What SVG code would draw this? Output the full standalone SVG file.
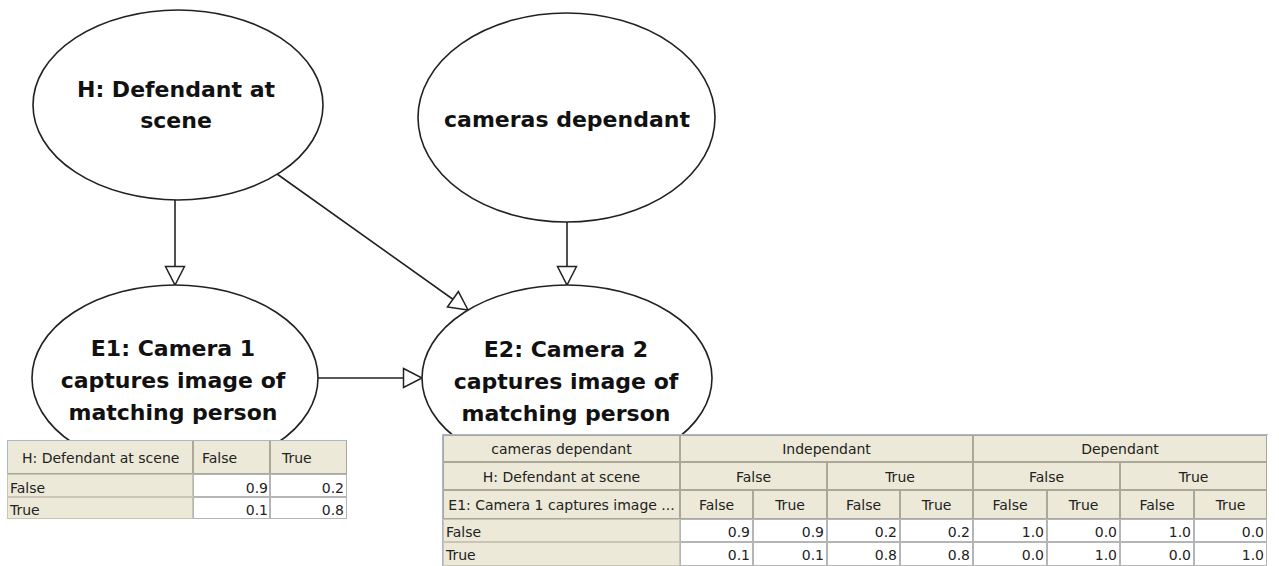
<svg xmlns="http://www.w3.org/2000/svg" width="1279" height="566" viewBox="0 0 1279 566">
<style>
.nd{fill:#fff;stroke:#222;stroke-width:1.6}
.nt{font-family:"DejaVu Sans",Verdana,sans-serif;font-weight:bold;font-size:22px;fill:#111;text-anchor:middle}
.ln{stroke:#222;stroke-width:1.6;fill:none}
.hc{fill:#ece9d8;stroke:#aca899;stroke-width:1}
.lc{fill:#ece9d8;stroke:#c9c5b5;stroke-width:1}
.vc{fill:#fff;stroke:#b5b5b5;stroke-width:1}
.tt{font-family:"DejaVu Sans",Tahoma,sans-serif;font-size:14px;fill:#222}
.c{text-anchor:middle}
.r{text-anchor:end}
.ob{fill:none;stroke:#a7b8cc;stroke-width:1}
</style>
<defs>
<marker id="ah" viewBox="0 0 22 22" refX="20" refY="11" markerWidth="22" markerHeight="22" markerUnits="userSpaceOnUse" orient="auto">
<path d="M1.5,1.5 L20,11 L1.5,20.5 Z" fill="#fff" stroke="#222" stroke-width="1.5"/>
</marker>
</defs>
<rect width="1279" height="566" fill="#fff"/>

<g id="connectors">
<path class="ln" d="M175,200 V285" marker-end="url(#ah)"/>
<path class="ln" d="M567,222 V285" marker-end="url(#ah)"/>
<path class="ln" d="M277,174 L468,310" marker-end="url(#ah)"/>
<path class="ln" d="M318,378 H422" marker-end="url(#ah)"/>
</g>

<g id="node-H">
<ellipse class="nd" cx="178" cy="105" rx="145" ry="95"/>
<text class="nt" x="176" y="97">H: Defendant at</text>
<text class="nt" x="176" y="128">scene</text>
</g>

<g id="node-cameras">
<ellipse class="nd" cx="566.5" cy="117.5" rx="148.5" ry="104.5"/>
<text class="nt" x="567" y="127">cameras dependant</text>
</g>

<g id="node-E1">
<ellipse class="nd" cx="175" cy="378" rx="143" ry="93"/>
<text class="nt" x="173" y="356">E1: Camera 1</text>
<text class="nt" x="173" y="388">captures image of</text>
<text class="nt" x="173" y="420">matching person</text>
</g>

<g id="node-E2">
<ellipse class="nd" cx="567" cy="378" rx="145" ry="93"/>
<text class="nt" x="566" y="357">E2: Camera 2</text>
<text class="nt" x="566" y="389">captures image of</text>
<text class="nt" x="566" y="421">matching person</text>
</g>

<g id="table-E1">
<rect x="7" y="440" width="340" height="79" fill="#fff"/>
<rect class="hc" x="7.5" y="440.5" width="185" height="33"/>
<rect class="hc" x="193.5" y="440.5" width="76" height="33"/>
<rect class="hc" x="270.5" y="440.5" width="76" height="33"/>
<rect class="lc" x="7.5" y="474.5" width="185" height="22"/>
<rect class="lc" x="7.5" y="497.5" width="185" height="21"/>
<rect class="vc" x="193.5" y="474.5" width="76" height="22"/>
<rect class="vc" x="270.5" y="474.5" width="76" height="22"/>
<rect class="vc" x="193.5" y="497.5" width="76" height="21"/>
<rect class="vc" x="270.5" y="497.5" width="76" height="21"/>
<path d="M7.5,474 V440.5 H347" class="ob"/>
<text class="tt" x="22" y="463">H: Defendant at scene</text>
<text class="tt" x="202" y="463">False</text>
<text class="tt" x="282" y="463">True</text>
<text class="tt" x="10" y="493">False</text>
<text class="tt" x="10" y="515">True</text>
<text class="tt r" x="268" y="493">0.9</text>
<text class="tt r" x="344" y="493">0.2</text>
<text class="tt r" x="268" y="515">0.1</text>
<text class="tt r" x="344" y="515">0.8</text>
</g>

<g id="table-E2">
<rect x="443" y="435" width="825" height="131" fill="#fff"/>
<rect class="hc" x="443.5" y="435.5" width="236" height="26"/>
<rect class="hc" x="680.5" y="435.5" width="292" height="26"/>
<rect class="hc" x="973.5" y="435.5" width="293" height="26"/>
<rect class="hc" x="443.5" y="462.5" width="236" height="27"/>
<rect class="hc" x="680.5" y="462.5" width="146" height="27"/>
<rect class="hc" x="827.5" y="462.5" width="145" height="27"/>
<rect class="hc" x="973.5" y="462.5" width="146" height="27"/>
<rect class="hc" x="1120.5" y="462.5" width="146" height="27"/>
<rect class="hc" x="443.5" y="490.5" width="236" height="28"/>
<rect class="hc" x="680.5" y="490.5" width="72" height="28"/>
<rect class="hc" x="753.5" y="490.5" width="73" height="28"/>
<rect class="hc" x="827.5" y="490.5" width="72" height="28"/>
<rect class="hc" x="900.5" y="490.5" width="72" height="28"/>
<rect class="hc" x="973.5" y="490.5" width="73" height="28"/>
<rect class="hc" x="1047.5" y="490.5" width="72" height="28"/>
<rect class="hc" x="1120.5" y="490.5" width="73" height="28"/>
<rect class="hc" x="1194.5" y="490.5" width="72" height="28"/>
<rect class="lc" x="443.5" y="519.5" width="236" height="22"/>
<rect class="lc" x="443.5" y="542.5" width="236" height="23"/>
<g class="vc">
<rect x="680.5" y="519.5" width="72" height="22"/>
<rect x="753.5" y="519.5" width="73" height="22"/>
<rect x="827.5" y="519.5" width="72" height="22"/>
<rect x="900.5" y="519.5" width="72" height="22"/>
<rect x="973.5" y="519.5" width="73" height="22"/>
<rect x="1047.5" y="519.5" width="72" height="22"/>
<rect x="1120.5" y="519.5" width="73" height="22"/>
<rect x="1194.5" y="519.5" width="72" height="22"/>
<rect x="680.5" y="542.5" width="72" height="23"/>
<rect x="753.5" y="542.5" width="73" height="23"/>
<rect x="827.5" y="542.5" width="72" height="23"/>
<rect x="900.5" y="542.5" width="72" height="23"/>
<rect x="973.5" y="542.5" width="73" height="23"/>
<rect x="1047.5" y="542.5" width="72" height="23"/>
<rect x="1120.5" y="542.5" width="73" height="23"/>
<rect x="1194.5" y="542.5" width="72" height="23"/>
</g>
<path d="M442.5,566 V434.5 H1268" class="ob"/>
<text class="tt c" x="561.5" y="454">cameras dependant</text>
<text class="tt c" x="826.5" y="454">Independant</text>
<text class="tt c" x="1120" y="454">Dependant</text>
<text class="tt c" x="561.5" y="482">H: Defendant at scene</text>
<text class="tt c" x="753.5" y="482">False</text>
<text class="tt c" x="900" y="482">True</text>
<text class="tt c" x="1046.5" y="482">False</text>
<text class="tt c" x="1193.5" y="482">True</text>
<text class="tt c" x="561.5" y="510">E1: Camera 1 captures image ...</text>
<text class="tt c" x="716.5" y="510">False</text>
<text class="tt c" x="790" y="510">True</text>
<text class="tt c" x="863.5" y="510">False</text>
<text class="tt c" x="936.5" y="510">True</text>
<text class="tt c" x="1010" y="510">False</text>
<text class="tt c" x="1083.5" y="510">True</text>
<text class="tt c" x="1157" y="510">False</text>
<text class="tt c" x="1230.5" y="510">True</text>
<text class="tt" x="446" y="537">False</text>
<text class="tt" x="446" y="560">True</text>
<text class="tt r" x="750" y="537">0.9</text>
<text class="tt r" x="824" y="537">0.9</text>
<text class="tt r" x="897" y="537">0.2</text>
<text class="tt r" x="970" y="537">0.2</text>
<text class="tt r" x="1044" y="537">1.0</text>
<text class="tt r" x="1117" y="537">0.0</text>
<text class="tt r" x="1191" y="537">1.0</text>
<text class="tt r" x="1264" y="537">0.0</text>
<text class="tt r" x="750" y="560">0.1</text>
<text class="tt r" x="824" y="560">0.1</text>
<text class="tt r" x="897" y="560">0.8</text>
<text class="tt r" x="970" y="560">0.8</text>
<text class="tt r" x="1044" y="560">0.0</text>
<text class="tt r" x="1117" y="560">1.0</text>
<text class="tt r" x="1191" y="560">0.0</text>
<text class="tt r" x="1264" y="560">1.0</text>
</g>
</svg>
